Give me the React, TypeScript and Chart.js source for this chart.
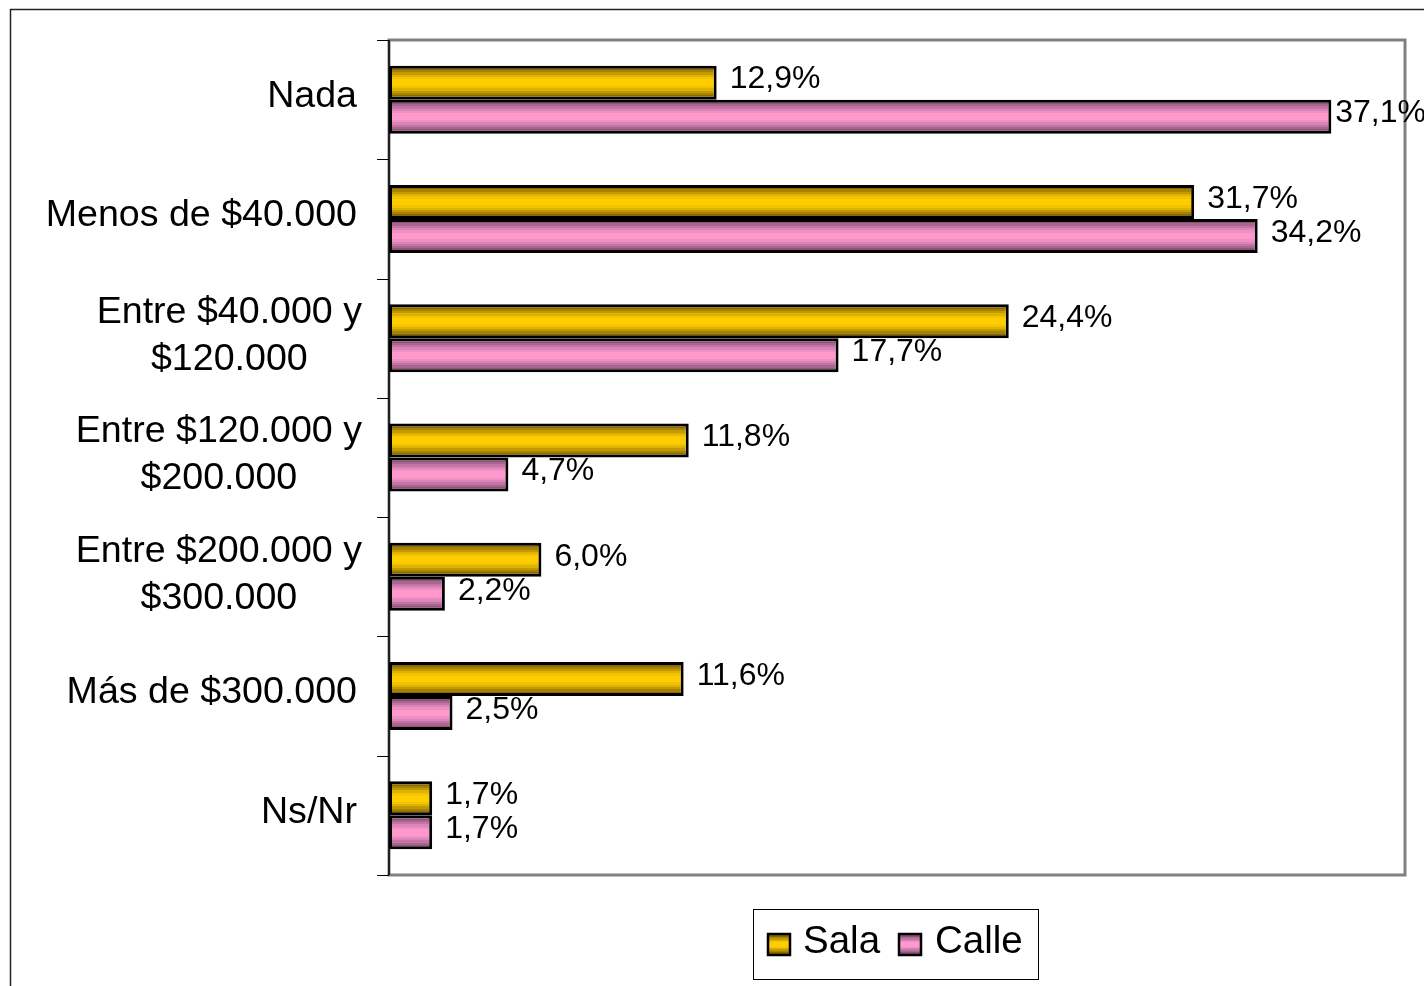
import React, { useEffect, useRef } from 'react';
import { Chart, registerables } from 'chart.js';

Chart.register(...registerables);

const categories: string[][] = [
  ['Nada'],
  ['Menos de $40.000'],
  ['Entre $40.000 y', '$120.000'],
  ['Entre $120.000 y', '$200.000'],
  ['Entre $200.000 y', '$300.000'],
  ['Más de $300.000'],
  ['Ns/Nr'],
];
const seriesNames = ['Sala', 'Calle'];
const salaValues = [12.9, 31.7, 24.4, 11.8, 6.0, 11.6, 1.7];
const calleValues = [37.1, 34.2, 17.7, 4.7, 2.2, 2.5, 1.7];
const xMax = 40;

const FONT = '"Liberation Sans", Arial, sans-serif';
const CAT_PCT = 0.57;
const SALA_BANDS = ['#6e5400', '#8a6a00', '#a68200', '#c29a00', '#ddb200', '#f2c300', '#ffcc00'];
const CALLE_BANDS = ['#74405f', '#8f5378', '#a9658f', '#c275a5', '#da84b7', '#ef90c4', '#ff99cc'];

function makeGradient(ctx: CanvasRenderingContext2D, top: number, bottom: number, bands: string[]) {
  const last = bands[bands.length - 1];
  const inner = bands.slice(0, -1);
  const full = [...inner, last, last, last, ...inner.slice().reverse()];
  const g = ctx.createLinearGradient(0, top, 0, bottom);
  const n = full.length;
  full.forEach((c, i) => {
    g.addColorStop(i / n, c);
    g.addColorStop(Math.min(1, (i + 1) / n - 0.0001), c);
  });
  return g;
}

function barGradient(c: any, bands: string[]) {
  const chart = c.chart;
  const area = chart.chartArea;
  const y = chart.scales && chart.scales.y;
  if (!area || !y || c.type !== 'data') return bands[bands.length - 1];
  const step = (area.bottom - area.top) / categories.length;
  const center = y.getPixelForValue(c.dataIndex);
  const thick = (step * CAT_PCT) / 2;
  const top = c.datasetIndex === 0 ? center - thick : center;
  return makeGradient(chart.ctx, top, top + thick, bands);
}

const fmt = (v: number) => v.toFixed(1).replace('.', ',') + '%';

const decorPlugin = {
  id: 'decor',
  beforeDatasetsDraw(chart: any) {
    const { ctx, chartArea: a } = chart;
    ctx.save();
    // outer chart border (top & left visible)
    ctx.strokeStyle = '#222';
    ctx.lineWidth = 1.5;
    ctx.beginPath();
    ctx.moveTo(10, 9.5);
    ctx.lineTo(chart.width, 9.5);
    ctx.moveTo(10.5, 9);
    ctx.lineTo(10.5, chart.height);
    ctx.stroke();
    // plot frame
    ctx.strokeStyle = '#808080';
    ctx.lineWidth = 3;
    ctx.strokeRect(a.left, a.top, a.right - a.left, a.bottom - a.top);
    ctx.restore();
  },
  afterDatasetsDraw(chart: any) {
    const { ctx, chartArea: a } = chart;
    const y = chart.scales.y;
    const step = (a.bottom - a.top) / categories.length;
    ctx.save();
    // left axis line + ticks
    ctx.strokeStyle = '#000';
    ctx.lineWidth = 1.5;
    ctx.beginPath();
    ctx.moveTo(a.left, a.top);
    ctx.lineTo(a.left, a.bottom);
    ctx.stroke();
    ctx.lineWidth = 1;
    ctx.beginPath();
    for (let i = 0; i <= categories.length; i++) {
      const yy = Math.round(y.getPixelForValue(i) - step / 2) + 0.5;
      ctx.moveTo(a.left - 12, yy);
      ctx.lineTo(a.left, yy);
    }
    ctx.stroke();

    // category labels
    ctx.fillStyle = '#000';
    ctx.font = `37.6px ${FONT}`;
    ctx.textBaseline = 'middle';
    categories.forEach((lines, i) => {
      const c = y.getPixelForValue(i);
      if (lines.length === 1) {
        ctx.textAlign = 'right';
        ctx.fillText(lines[0], a.left - 32, c - 3);
      } else {
        const w1 = ctx.measureText(lines[0]).width;
        const cx = a.left - 27 - w1 / 2;
        ctx.textAlign = 'center';
        ctx.fillText(lines[0], cx, c - 2 - 23.5);
        ctx.fillText(lines[1], cx, c - 2 + 23.5);
      }
    });

    // data labels
    ctx.font = `32px ${FONT}`;
    ctx.textAlign = 'left';
    chart.data.datasets.forEach((ds: any, di: number) => {
      const meta = chart.getDatasetMeta(di);
      meta.data.forEach((bar: any, j: number) => {
        const text = fmt(ds.data[j]);
        const w = ctx.measureText(text).width;
        const x = Math.min(bar.x + 13, chart.width - w + 2);
        ctx.fillText(text, x, bar.y - 3);
      });
    });

    // legend
    ctx.strokeStyle = '#000';
    ctx.lineWidth = 1;
    ctx.strokeRect(753.5, 909.5, 285, 70);
    const items = [
      { name: seriesNames[0], bands: SALA_BANDS, mx: 768, tx: 803 },
      { name: seriesNames[1], bands: CALLE_BANDS, mx: 899, tx: 935 },
    ];
    ctx.font = `38.5px ${FONT}`;
    items.forEach((it) => {
      ctx.fillStyle = makeGradient(ctx, 934, 955, it.bands);
      ctx.fillRect(it.mx, 934, 22, 21);
      ctx.strokeStyle = '#000';
      ctx.lineWidth = 2.5;
      ctx.strokeRect(it.mx, 934, 22, 21);
      ctx.fillStyle = '#000';
      ctx.fillText(it.name, it.tx, 942);
    });
    ctx.restore();
  },
};

export default function App() {
  const ref = useRef<HTMLCanvasElement | null>(null);
  useEffect(() => {
    document.body.style.margin = '0';
    document.body.style.overflow = 'hidden';
    const canvas = ref.current;
    if (!canvas) return;
    const chart = new Chart(canvas, {
      type: 'bar',
      data: {
        labels: categories,
        datasets: [
          {
            label: seriesNames[0],
            data: salaValues,
            backgroundColor: (c: any) => barGradient(c, SALA_BANDS),
            borderColor: '#000',
            borderWidth: 3,
            borderSkipped: false,
          },
          {
            label: seriesNames[1],
            data: calleValues,
            backgroundColor: (c: any) => barGradient(c, CALLE_BANDS),
            borderColor: '#000',
            borderWidth: 3,
            borderSkipped: false,
          },
        ],
      },
      options: {
        indexAxis: 'y',
        responsive: false,
        animation: false,
        devicePixelRatio: 1,
        categoryPercentage: CAT_PCT,
        barPercentage: 1,
        layout: { padding: { left: 389, top: 40, right: 19, bottom: 111 } },
        scales: {
          x: { display: false, min: 0, max: xMax },
          y: { display: false, offset: true },
        },
        plugins: {
          legend: { display: false },
          tooltip: { enabled: false },
        },
      } as any,
      plugins: [decorPlugin],
    });
    return () => chart.destroy();
  }, []);
  return (
    <div style={{ width: 1424, height: 986, background: '#fff' }}>
      <canvas ref={ref} width={1424} height={986} />
    </div>
  );
}
